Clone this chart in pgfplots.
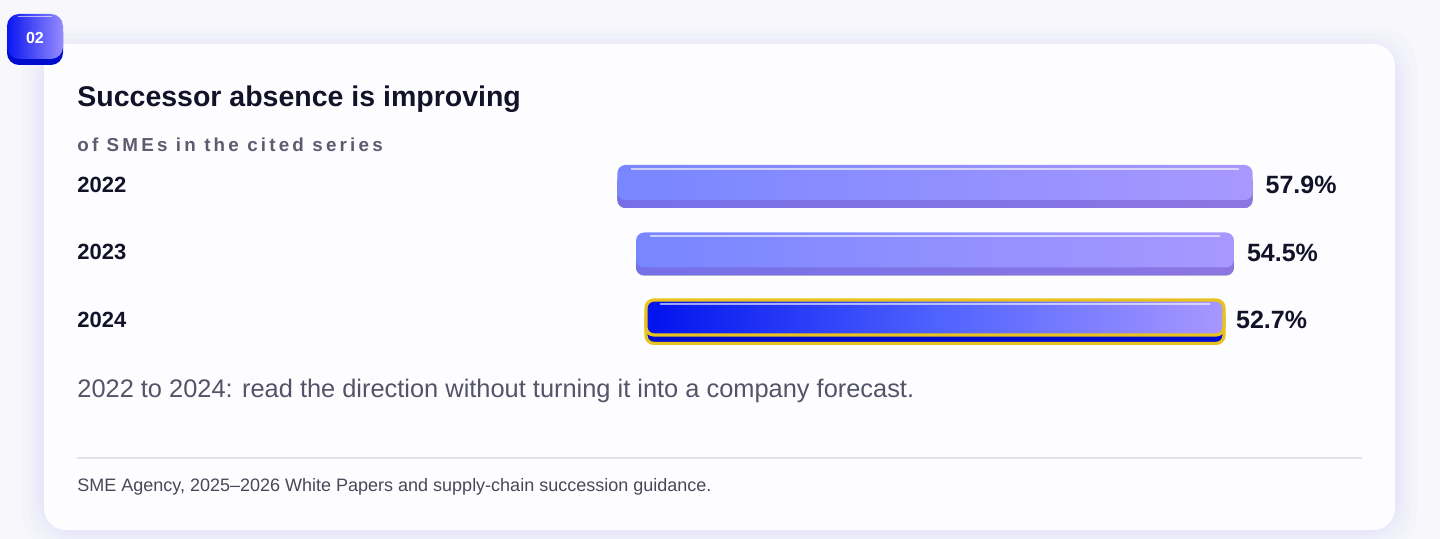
\documentclass[border=0pt]{standalone}
\usepackage{pgfplots}
\pgfplotsset{compat=1.18}
\usepackage{pgfplotstable}
\usepackage{fontspec}
\setmainfont{Liberation Sans}
\newfontfamily\spacedfont[LetterSpace=17]{Liberation Sans}
\usetikzlibrary{shadows}

\definecolor{pagebg}{RGB}{247,247,252}
\definecolor{cardbg}{RGB}{253,253,255}
\definecolor{glow}{RGB}{226,224,250}
\definecolor{titlec}{RGB}{18,18,40}
\definecolor{subc}{RGB}{92,92,112}
\definecolor{capc}{RGB}{84,84,104}
\definecolor{srcc}{RGB}{72,72,90}
\definecolor{linec}{RGB}{226,226,234}
\definecolor{lavL}{RGB}{120,134,255}
\definecolor{lavR}{RGB}{168,152,255}
\definecolor{lavEdgeL}{RGB}{118,112,232}
\definecolor{lavEdgeR}{RGB}{140,118,226}
\definecolor{blueL}{RGB}{0,18,238}
\definecolor{blueM}{RGB}{78,98,255}
\definecolor{blueEdge}{RGB}{0,12,205}
\definecolor{gold}{RGB}{233,194,32}
\definecolor{badgeL}{RGB}{10,22,240}
\definecolor{badgeR}{RGB}{150,140,255}

% one small table per year: y position, invisible offset that centres the bar,
% value (%), and a zero-length tip segment that carries the value label
\pgfplotstableread{
y off val tip
0 21.05 57.9 0
}\tA
\pgfplotstableread{
y off val tip
1 22.75 54.5 0
}\tB
\pgfplotstableread{
y off val tip
2 23.65 52.7 0
}\tC

\pgfplotsset{
  baraxis/.style={
    at={(302.95pt,-74.375pt)}, anchor=north west,
    width=329.1pt, height=101.25pt, scale only axis,
    xmin=20, xmax=80, ymin=-0.5, ymax=2.5, y dir=reverse,
    xbar stacked, stacked ignores zero=false, bar width=17.5pt, clip=false,
    axis line style={draw=none}, tick style={draw=none},
    xtick=\empty, ytick=\empty,
  },
  offsetbar/.style={draw=none, fill=none, forget plot},
  tiplabel/.style={
    draw=none, fill=none, forget plot,
    point meta=explicit,
    nodes near coords={\pgfmathprintnumber[fixed,fixed zerofill,precision=1,assume math mode=true]{\pgfplotspointmeta}\%},
    nodes near coords style={anchor=west, text=titlec, xshift=#1, yshift=-1.3pt,
      font=\bfseries\fontsize{12.5}{14}\selectfont},
  },
  highlight/.style={
    path picture={\path[path picture={}, draw=white, draw opacity=0.6, line width=1.1pt]
      ([xshift=7pt,yshift=-1.9pt]path picture bounding box.north west) --
      ([xshift=-7pt,yshift=-1.9pt]path picture bounding box.north east);}
  },
  lavbar/.style={
    draw=none, rounded corners=4pt,
    left color=lavL, right color=lavR,
    drop shadow={shadow xshift=0pt, shadow yshift=-4pt, opacity=1,
      left color=lavEdgeL, right color=lavEdgeR},
    highlight,
  },
  bluebar/.style={
    draw=gold, line width=1.6pt, rounded corners=4pt,
    left color=blueL, right color=lavR, middle color=blueM,
    drop shadow={shadow xshift=0pt, shadow yshift=-4.2pt, opacity=1,
      left color=blueEdge, right color=blueEdge, middle color=blueEdge},
    highlight,
  },
}

\begin{document}
\begin{tikzpicture}
\useasboundingbox (0,0) rectangle (720pt,-269.5pt);
\fill[pagebg] (0,0) rectangle (720pt,-269.5pt);

\begin{scope}[x=0.5pt,y=-0.5pt]
  % card glow and card
  \foreach \e/\o in {22/0.10,16/0.14,11/0.18,7/0.22,4/0.28}{
    \fill[glow, opacity=\o, rounded corners=20pt] (44-\e,44-\e+6) rectangle (1395+\e,530+\e);
  }
  \fill[cardbg, rounded corners=11pt] (44,44) rectangle (1395,530);

  % badge
  \fill[blueEdge, rounded corners=6pt] (7,20) rectangle (63,65);
  \shade[left color=badgeL, right color=badgeR, rounded corners=6pt] (7,14) rectangle (63,59);
  \draw[white, opacity=.6, line width=0.8pt] (18,16.5) -- (52,16.5);
  \node[text=white, font=\bfseries\fontsize{8}{9}\selectfont] at (35,38) {02};

  % texts
  \node[anchor=base west, inner sep=0pt, text=titlec,
        font=\bfseries\fontsize{14.25}{17}\selectfont] at (77,107) {Successor absence is improving};
  \node[anchor=base west, inner sep=0pt, text=subc,
        font=\spacedfont\bfseries\fontsize{9.4}{11}\selectfont] at (77,151.5) {of SMEs in the cited series};
  \node[anchor=base west, inner sep=0pt, text=capc,
        font=\fontsize{12.7}{15}\selectfont] at (77,398) {2022 to 2024: read the direction without turning it into a company forecast.};
  \draw[linec, line width=1pt] (77,458) -- (1362,458);
  \node[anchor=base west, inner sep=0pt, text=srcc,
        font=\fontsize{9}{11}\selectfont] at (77,491) {SME Agency, 2025--2026 White Papers and supply-chain succession guidance.};
\end{scope}

% 2022 (also carries the year labels)
\begin{axis}[baraxis, hide x axis, ytick={0,1,2}, yticklabels={2022,2023,2024},
  yticklabel style={anchor=west, inner sep=0pt, xshift=-264.45pt, yshift=-1.2pt,
    text=titlec, font=\bfseries\fontsize{11}{13}\selectfont}]
\addplot[offsetbar] table[x=off, y=y] {\tA};
\addplot[lavbar] table[x=val, y=y] {\tA};
\addplot[tiplabel=3pt] table[x=tip, y=y, meta=val] {\tA};
\end{axis}

% 2023
\begin{axis}[baraxis, hide axis]
\addplot[offsetbar] table[x=off, y=y] {\tB};
\addplot[lavbar] table[x=val, y=y] {\tB};
\addplot[tiplabel=3pt] table[x=tip, y=y, meta=val] {\tB};
\end{axis}

% 2024 (highlighted)
\begin{axis}[baraxis, hide axis]
\addplot[offsetbar] table[x=off, y=y] {\tC};
\addplot[bluebar] table[x=val, y=y] {\tC};
\addplot[tiplabel=2.5pt] table[x=tip, y=y, meta=val] {\tC};
\end{axis}
\end{tikzpicture}
\end{document}
